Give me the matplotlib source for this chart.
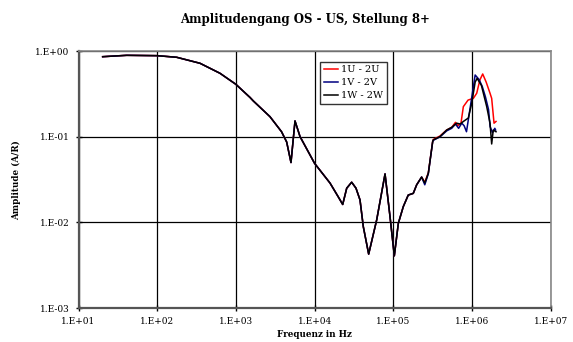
import numpy as np
import matplotlib.pyplot as plt
from matplotlib.ticker import FixedLocator, FuncFormatter, NullLocator

# log10(Hz) / log10(A/R) values
common_logf = [1.307, 1.612, 2.0, 2.248, 2.544, 2.798, 3.0, 3.18, 3.221, 3.433, 3.58,
               3.645, 3.70, 3.751, 3.815, 4.0, 4.196, 4.30, 4.357, 4.408, 4.471,
               4.526, 4.577, 4.619, 4.687, 4.789, 4.895, 4.958, 5.013, 5.064, 5.127,
               5.19, 5.254, 5.297, 5.36]
common_logA = [-0.063, -0.047, -0.051, -0.07, -0.14, -0.257, -0.386, -0.54, -0.58,
               -0.764, -0.94, -1.06, -1.30, -0.814, -0.997, -1.31, -1.54, -1.70, -1.79,
               -1.60, -1.53, -1.60, -1.737, -2.05, -2.37, -1.97, -1.433, -1.93, -2.39,
               -2.01, -1.815, -1.68, -1.66, -1.56, -1.47]

tail_logf_u = [5.40, 5.445, 5.50, 5.508, 5.593, 5.678, 5.742, 5.79, 5.82, 5.86, 5.89,
               5.95, 6.017, 6.06, 6.10, 6.136, 6.18, 6.229, 6.25, 6.28, 6.305]
tail_logA_u = [-1.53, -1.42, -1.056, -1.03, -0.99, -0.92, -0.89, -0.83, -0.87, -0.84,
               -0.647, -0.57, -0.55, -0.49, -0.335, -0.265, -0.36, -0.49, -0.55, -0.84, -0.82]

tail_logf_v = [5.40, 5.445, 5.50, 5.508, 5.593, 5.678, 5.742, 5.79, 5.83, 5.87, 5.90,
               5.93, 5.97, 6.04, 6.09, 6.13, 6.17, 6.21, 6.23, 6.26, 6.29, 6.30]
tail_logA_v = [-1.56, -1.43, -1.06, -1.04, -1.00, -0.93, -0.90, -0.85, -0.90, -0.84,
               -0.87, -0.94, -0.70, -0.277, -0.33, -0.41, -0.53, -0.68, -0.88, -0.95,
               -0.90, -0.92]

tail_logf_w = [5.40, 5.445, 5.50, 5.508, 5.593, 5.678, 5.742, 5.805, 5.85, 5.89, 5.953,
               5.996, 6.04, 6.065, 6.12, 6.187, 6.229, 6.25, 6.27, 6.305]
tail_logA_w = [-1.54, -1.425, -1.056, -1.036, -0.997, -0.92, -0.888, -0.84, -0.85,
               -0.82, -0.78, -0.61, -0.36, -0.316, -0.40, -0.647, -0.84, -1.083, -0.92, -0.94]

series = [
    ('1U - 2U', '#ff0000', tail_logf_u, tail_logA_u),
    ('1V - 2V', '#000080', tail_logf_v, tail_logA_v),
    ('1W - 2W', '#000000', tail_logf_w, tail_logA_w),
]

plt.rcParams['font.family'] = 'DejaVu Serif'

fig = plt.figure(figsize=(5.73, 3.42), dpi=100)
ax = fig.add_axes([78.5 / 573, 1 - 308 / 342, (550.7 - 78.5) / 573, (308 - 51.3) / 342])

for label, color, tf, ta in series:
    f = 10 ** np.array(common_logf + tf)
    a = 10 ** np.array(common_logA + ta)
    ax.plot(f, a, color=color, lw=1.1, label=label)

ax.set_xscale('log')
ax.set_yscale('log')
ax.set_xlim(1e1, 1e7)
ax.set_ylim(1e-3, 1e0)

fmt = FuncFormatter(lambda v, p: '1.E%+03d' % int(round(np.log10(v))))
ax.xaxis.set_major_locator(FixedLocator([10.0 ** k for k in range(1, 8)]))
ax.yaxis.set_major_locator(FixedLocator([10.0 ** k for k in range(-3, 1)]))
ax.xaxis.set_minor_locator(NullLocator())
ax.yaxis.set_minor_locator(NullLocator())
ax.xaxis.set_major_formatter(fmt)
ax.yaxis.set_major_formatter(fmt)
ax.tick_params(labelsize=6.5, direction='inout', length=5, width=1, pad=4, colors='black')
ax.grid(True, color='black', lw=0.9)

for side in ['left', 'bottom']:
    ax.spines[side].set_color('#555555')
    ax.spines[side].set_linewidth(1.6)
for side in ['top', 'right']:
    ax.spines[side].set_color('#888888')
    ax.spines[side].set_linewidth(1.2)

ax.set_xlabel('Frequenz in Hz', fontsize=6.3, fontweight='bold', labelpad=3)
ax.set_ylabel('Amplitude (A/R)', fontsize=6.3, fontweight='bold', labelpad=10)
fig.text(305 / 573, 1 - 19.3 / 342, 'Amplitudengang OS - US, Stellung 8+',
         ha='center', va='center', fontsize=8.5, fontweight='bold')

leg = ax.legend(loc='upper left', bbox_to_anchor=(0.511, 0.96), fontsize=7,
                frameon=True, fancybox=False, shadow=False, borderpad=0.4,
                handlelength=1.5, handletextpad=0.3, labelspacing=0.4,
                borderaxespad=0)
leg.get_frame().set_edgecolor('black')
leg.get_frame().set_linewidth(1.0)

plt.savefig('out.png', dpi=100)
